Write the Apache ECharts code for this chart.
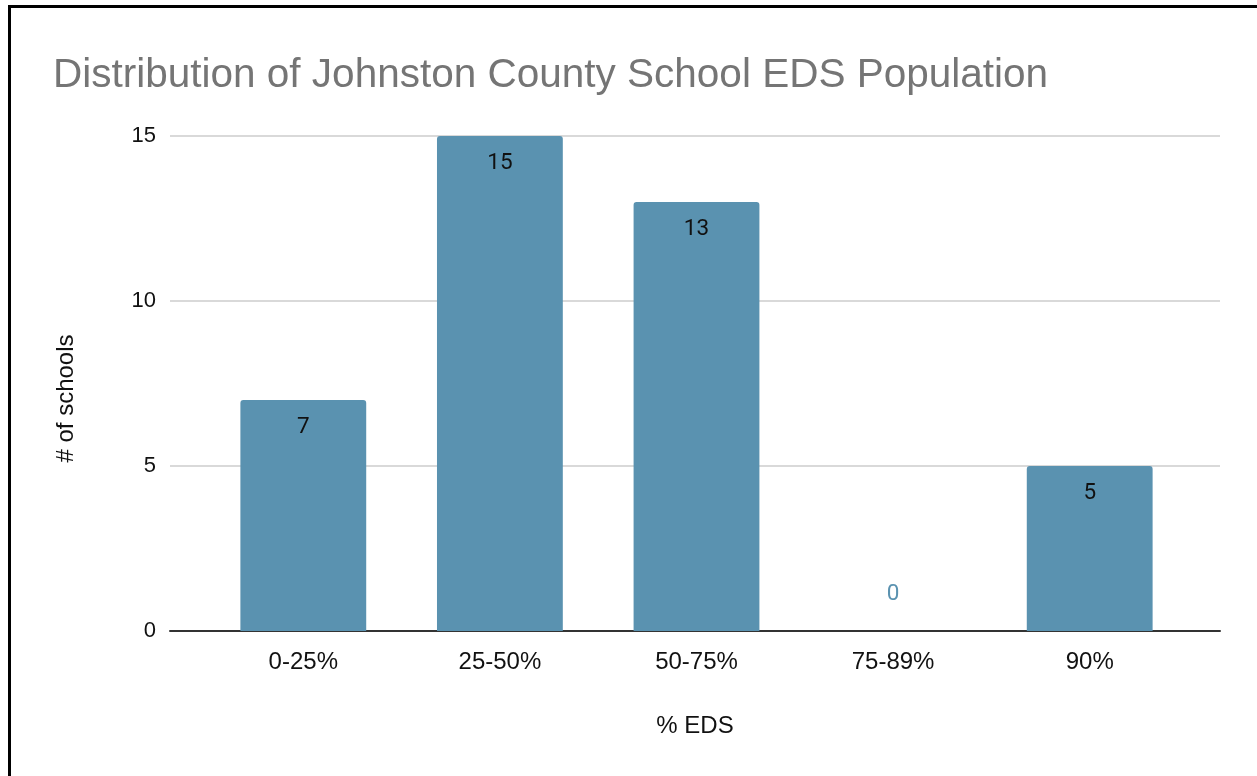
<!DOCTYPE html>
<html><head><meta charset="utf-8">
<script src="https://cdn.jsdelivr.net/npm/echarts@6/dist/echarts.min.js"></script>
<style>
html,body{margin:0;padding:0;background:#fff;overflow:hidden}
#frame{position:absolute;left:8px;top:5px;width:1300px;height:900px;border-left:3px solid #000;border-top:3px solid #000}
#c{position:absolute;left:0;top:0;width:1257px;height:776px}
</style></head>
<body><div id="frame"></div><div id="c"></div>
<script>
var title = 'Distribution of Johnston County School EDS Population';
var categories = ['0-25%', '25-50%', '50-75%', '75-89%', '90%'];
var schools = [7, 15, 13, 0, 5];
var yTicks = [0, 5, 10, 15];
var xTitle = '% EDS';
var yTitle = '# of schools';
var barColor = '#5a92b0';

var chart = echarts.init(document.getElementById('c'));
chart.setOption({
  animation: false,
  title: {text: title, left: 48, top: 50, textStyle: {fontFamily: 'Liberation Sans', fontSize: 40.5, fontWeight: 'normal', color: '#757575'}},
  grid: [
    {left: 170, right: 37, top: 136, bottom: 145},
    {left: 205, right: 69, top: 136, bottom: 145}
  ],
  xAxis: [
    {gridIndex: 0, type: 'category', data: categories, show: true,
     axisLine: {show: true, lineStyle: {color: '#333', width: 2}},
     axisTick: {show: false}, axisLabel: {show: false},
     name: xTitle, nameLocation: 'middle', nameGap: 83,
     nameTextStyle: {fontFamily: 'Liberation Sans', fontSize: 24, color: '#111'}},
    {gridIndex: 1, type: 'category', data: categories,
     axisLine: {show: false}, axisTick: {show: false},
     axisLabel: {fontFamily: 'Liberation Sans', fontSize: 24, color: '#111', margin: 19}}
  ],
  yAxis: [
    {gridIndex: 0, type: 'value', min: yTicks[0], max: yTicks[yTicks.length-1], interval: 5,
     axisLine: {show: false}, axisTick: {show: false},
     axisLabel: {fontFamily: 'Liberation Sans', fontSize: 22, color: '#111', margin: 14},
     splitLine: {lineStyle: {color: '#cccccc', width: 1.5}},
     name: yTitle, nameLocation: 'middle', nameGap: 92, nameRotate: 90,
     nameTextStyle: {fontFamily: 'Liberation Sans', fontSize: 24, color: '#111', padding: [0,30,0,0]}},
    {gridIndex: 1, type: 'value', min: yTicks[0], max: yTicks[yTicks.length-1], interval: 5, show: false}
  ],
  series: [{
    type: 'bar', xAxisIndex: 1, yAxisIndex: 1, data: schools.map(function(v){
      return {value: v, label: v === 0 ? {position: 'top', distance: 25, color: barColor} : {}};
    }),
    barWidth: '64%', itemStyle: {color: barColor, borderRadius: [3,3,0,0]},
    label: {show: true, position: 'insideTop', distance: 16, fontFamily: 'Roboto', fontSize: 22.5, color: '#111'}
  }]
});
</script></body></html>
